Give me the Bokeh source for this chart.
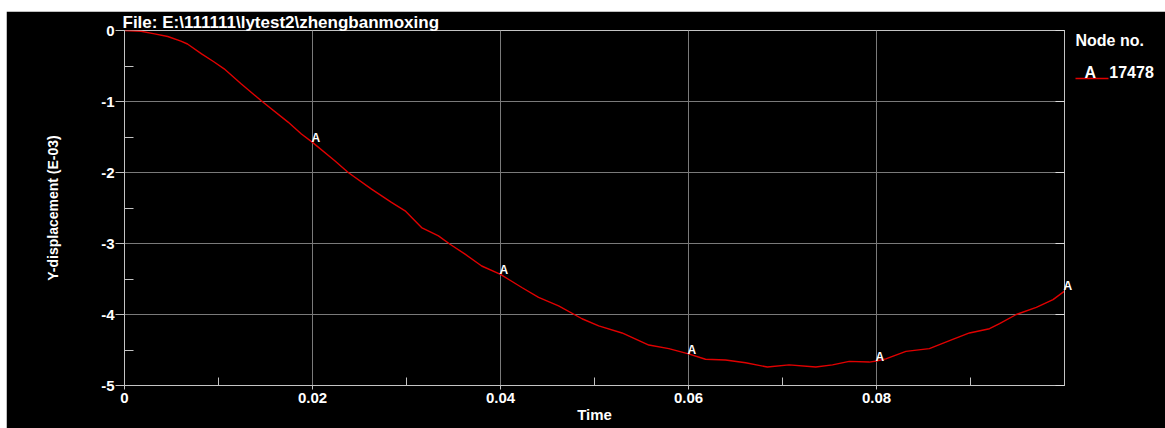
from bokeh.plotting import figure
from bokeh.models import Range1d, FixedTicker, LinearAxis, LabelSet, ColumnDataSource
from bokeh.core.properties import value
from bokeh.embed import file_html
from bokeh.resources import INLINE

# ---- data ----
time = [0, 0.00176, 0.0032, 0.0046, 0.006, 0.0067, 0.0082, 0.0095, 0.0106, 0.0124, 0.01455,
        0.0174, 0.01882, 0.02, 0.02237, 0.0238, 0.02628, 0.0284, 0.02985, 0.0316, 0.0334,
        0.03463, 0.03623, 0.038, 0.04, 0.04227, 0.04405, 0.04618, 0.04867, 0.05045, 0.05293,
        0.05578, 0.05791, 0.06, 0.06181, 0.06394, 0.06608, 0.06839, 0.0707, 0.07354, 0.07532,
        0.0771, 0.07923, 0.08, 0.08099, 0.08313, 0.08562, 0.08811, 0.08989, 0.09202, 0.09309,
        0.09487, 0.097, 0.09878, 0.1]
y_disp = [0, -0.01, -0.047, -0.085, -0.15, -0.19, -0.33, -0.44, -0.54, -0.75, -0.99,
          -1.29, -1.458, -1.576, -1.835, -2.0, -2.234, -2.42, -2.54, -2.776, -2.893,
          -3.01, -3.15, -3.317, -3.435, -3.62, -3.76, -3.88, -4.06, -4.16, -4.26,
          -4.43, -4.48, -4.555, -4.63, -4.64, -4.68, -4.74, -4.71, -4.74, -4.71,
          -4.66, -4.67, -4.655, -4.625, -4.52, -4.48, -4.35, -4.26, -4.20, -4.13,
          -4.0, -3.90, -3.79, -3.67]
marker_time = [0.02, 0.04, 0.06, 0.08]
marker_disp = [-1.576, -3.435, -4.555, -4.655]
marker_text = ["A", "A", "A", "A"]
end_marker_disp = -3.67          # the "A" at the right end of the curve (t = 0.1)
x_ticks = [0, 0.02, 0.04, 0.06, 0.08]
x_tick_labels = ["0", "0.02", "0.04", "0.06", "0.08"]
x_minor = [0.01, 0.03, 0.05, 0.07, 0.09]
y_ticks = [-5, -4, -3, -2, -1, 0]
y_tick_labels = ["-5", "-4", "-3", "-2", "-1", "0"]
y_minor = [-4.5, -3.5, -2.5, -1.5, -0.5]
title_text = "File: E:\\111111\\lytest2\\zhengbanmoxing"
y_title = "Y-displacement (E-03)"
x_title = "Time"
legend_title = "Node no."
legend_label = "\u00a0\u00a0A\u00a0\u00a0\u00a017478"
# vertical slots of the key at the right (in y units of the plot)
legend_title_y = -0.137
legend_label_y = -0.593
legend_line_y = -0.677

FONT = "Liberation Sans"
WHITE = "#ffffff"
GRID = "#7a7a7a"
AXIS = "#c4c4c4"
RED = "#e00000"

p = figure(width=1159, height=417, output_backend="svg", toolbar_location=None,
           x_range=Range1d(0, 0.1), y_range=Range1d(-5, 0),
           min_border_left=118, min_border_right=101, min_border_top=19, min_border_bottom=43,
           background_fill_color="black", border_fill_color="black")
p.margin = (11, 0, 0, 6)
p.outline_line_color = AXIS

curve = p.line(time, y_disp, line_color=RED, line_width=1.4)

# title
p.title.text = title_text
p.title.align = "left"
p.title.text_color = WHITE
p.title.text_font = FONT
p.title.text_font_style = "bold"
p.title.text_font_size = "17px"
p.title.text_line_height = 0.9
p.title.standoff = -3
p.title.offset = -2

# axes
xa = p.xaxis[0]
xa.ticker = FixedTicker(ticks=x_ticks, minor_ticks=x_minor)
xa.major_label_overrides = dict(zip(x_ticks, x_tick_labels))
ya = p.yaxis[0]
ya.ticker = FixedTicker(ticks=y_ticks, minor_ticks=y_minor)
ya.major_label_overrides = dict(zip(y_ticks, y_tick_labels))
for ax in (xa, ya):
    ax.axis_line_color = AXIS
    ax.major_tick_line_color = AXIS
    ax.minor_tick_line_color = AXIS
    ax.major_label_text_color = WHITE
    ax.major_label_text_font = FONT
    ax.major_label_text_font_style = "bold"
    ax.major_label_text_font_size = "15px"
    ax.axis_label_text_color = WHITE
    ax.axis_label_text_font = FONT
    ax.axis_label_text_font_style = "bold"
xa.major_tick_in = 0
xa.major_tick_out = 4
xa.minor_tick_in = 8
xa.minor_tick_out = 0
xa.major_label_standoff = 3
xa.axis_label = x_title
xa.axis_label_text_font_size = "15px"
xa.axis_label_standoff = 0
ya.major_tick_in = 0
ya.major_tick_out = 9
ya.minor_tick_in = 9
ya.minor_tick_out = 0
ya.major_label_standoff = 1
ya.axis_label = y_title
ya.axis_label_text_font_size = "14px"
ya.axis_label_standoff = 37

# right axis: inward ticks at the major values + the end-of-curve "A"
ra = LinearAxis(ticker=FixedTicker(ticks=[end_marker_disp + 0.075], minor_ticks=y_ticks),
                major_label_overrides={end_marker_disp + 0.075: "A"},
                major_label_text_color=WHITE, major_label_text_font=FONT,
                major_label_text_font_style="bold", major_label_text_font_size="12px",
                major_label_standoff=-1,
                major_tick_in=0, major_tick_out=0, minor_tick_in=9, minor_tick_out=0,
                axis_line_color=AXIS, minor_tick_line_color="#dcdcdc")
p.add_layout(ra, "right")

# key ("Node no." / A 17478) drawn as a second, line-less right axis
ka = LinearAxis(ticker=FixedTicker(ticks=[legend_title_y, legend_label_y],
                                   minor_ticks=[legend_line_y]),
                major_label_overrides={legend_title_y: legend_title,
                                       legend_label_y: legend_label},
                major_label_text_color=WHITE, major_label_text_font=FONT,
                major_label_text_font_style="bold", major_label_text_font_size="16px",
                major_label_standoff=0,
                major_tick_in=0, major_tick_out=0, minor_tick_in=-33, minor_tick_out=0,
                minor_tick_line_color=RED, minor_tick_line_width=1.4,
                axis_line_color=None)
p.add_layout(ka, "right")

p.xgrid.ticker = FixedTicker(ticks=x_ticks + [0.1])
p.ygrid.ticker = FixedTicker(ticks=y_ticks)
p.xgrid.grid_line_color = GRID
p.ygrid.grid_line_color = GRID

# curve markers "A"
src = ColumnDataSource(dict(x=marker_time, y=marker_disp, t=marker_text))
p.add_layout(LabelSet(x="x", y="y", text="t", source=src, text_color=WHITE,
                      text_font=value(FONT), text_font_style="bold", text_font_size="12px",
                      text_baseline="alphabetic", text_align="left", x_offset=-1))

open("out.html", "w").write(file_html(p, INLINE))
